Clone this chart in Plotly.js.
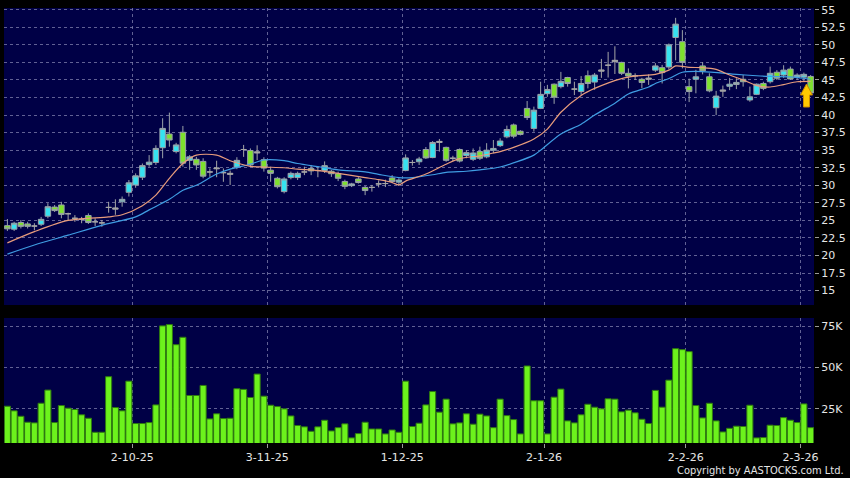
<!DOCTYPE html>
<html><head><meta charset="utf-8">
<script src="https://cdn.plot.ly/plotly-3.0.1.min.js"></script>
<style>html,body{margin:0;padding:0;background:#000;}#c{width:850px;height:478px;}</style>
</head><body><div id="c"></div>
<script>
// ---- data ----
const openP = [24.25,23.75,24.7,24.5,24.2,24.45,25.6,26.9,27.2,25.95,
25.3,25.15,25.7,24.8,24.65,26.85,26.6,27.65,29.0,30.05,
31.15,32.95,33.25,35.35,37.3,34.8,37.55,33.55,33.7,33.4,
31.9,32.35,31.8,31.55,32.6,35.1,34.95,34.6,33.65,32.15,
31.0,29.1,31.1,31.1,31.9,32.4,32.1,32.1,32.0,31.65,
30.55,29.95,30.9,29.7,29.7,30.2,30.25,31.05,30.45,32.1,
33.25,33.35,35.1,33.95,36.1,35.4,33.85,35.1,34.25,33.7,
34.8,34.05,35.0,35.65,36.9,38.6,37.7,40.95,38.1,40.95,
43.05,44.4,44.05,45.35,43.7,43.35,45.6,44.7,46.25,47.1,
47.6,47.5,45.95,45.6,45.1,45.1,46.4,46.75,46.85,51.05,
50.45,44.05,45.1,47.0,45.45,41.05,43.4,44.1,44.35,45.1,
42.15,42.95,44.5,44.75,46.1,45.7,46.55,45.4,45.4,45.5];
const highP = [25.2,24.8,25.05,24.8,24.6,25.5,27.45,27.2,27.65,26.1,
25.75,25.5,26.0,25.3,25.05,27.65,28.0,28.4,30.75,31.7,
33.1,34.3,35.7,39.55,40.35,36.05,38.45,34.3,34.05,33.85,
32.4,33.5,32.4,32.1,34.0,35.75,35.25,35.7,34.0,32.65,
31.2,31.15,31.95,31.95,32.65,32.9,32.65,33.4,32.2,31.95,
30.8,30.35,31.15,29.9,30.05,30.7,30.8,31.45,31.0,34.4,
33.6,34.05,35.45,36.3,36.6,35.5,34.2,35.25,35.0,35.25,
35.5,36.0,36.45,36.7,38.5,38.8,37.85,42.0,41.2,44.75,
44.3,44.5,46.15,45.45,44.75,45.55,46.35,46.0,48.0,49.0,
49.8,47.6,46.65,45.95,45.3,45.8,47.4,47.15,50.2,53.85,
52.1,45.2,46.45,47.55,45.95,43.45,44.2,45.3,45.25,45.7,
44.05,44.5,44.75,46.9,46.4,47.1,46.9,45.95,46.05,45.7];
const lowP = [23.5,23.5,23.85,23.85,23.6,24.2,25.3,26.2,25.3,25.0,
24.8,24.6,24.5,24.2,24.1,26.1,25.8,26.95,28.4,29.65,
30.75,32.65,32.9,33.85,35.5,34.55,32.65,32.2,32.2,31.0,
31.2,31.15,30.5,30.05,32.3,34.05,32.65,33.6,31.95,30.5,
29.55,28.85,30.85,30.75,31.45,31.45,31.15,31.75,31.2,30.6,
29.45,29.75,30.25,28.6,29.1,29.7,29.75,30.3,29.9,32.0,
32.8,32.9,33.75,33.85,34.8,33.35,33.45,33.25,33.85,33.45,
33.6,33.85,34.55,35.45,36.7,36.7,37.1,39.3,37.65,40.85,
42.6,41.6,43.8,44.05,42.85,42.85,43.8,43.6,45.3,45.35,
45.85,45.7,43.8,45.0,43.85,44.3,46.15,44.5,46.5,47.8,
46.65,41.85,43.1,45.8,43.25,40.0,42.6,43.55,43.7,44.05,
41.9,42.85,43.55,44.5,45.0,45.3,45.0,45.0,44.75,43.0];
const closeP = [23.8,24.6,24.15,24.15,24.2,25.15,26.95,26.4,25.85,25.95,
25.3,25.15,24.7,24.8,24.65,26.85,26.75,28.0,30.35,31.35,
32.8,33.3,35.25,38.1,36.45,35.75,33.15,34.05,32.9,31.3,
31.9,32.45,31.8,31.7,33.55,35.1,32.9,34.75,32.45,31.7,
29.8,30.9,31.7,31.7,31.9,32.05,32.1,32.8,31.65,31.0,
29.85,30.2,30.4,29.25,29.7,30.2,30.25,30.55,30.75,33.9,
33.25,33.75,33.9,36.1,36.25,33.55,33.85,33.45,34.65,34.6,
33.85,35.0,35.25,36.3,37.95,37.0,37.25,39.65,40.7,42.95,
43.65,42.55,44.8,44.5,43.7,44.5,44.5,45.7,46.4,47.1,
47.8,45.95,45.55,45.6,44.65,45.25,47.0,46.05,50.0,52.95,
47.5,43.35,45.45,46.3,43.45,42.7,43.55,44.4,44.65,44.75,
42.6,44.4,43.8,45.95,45.25,46.4,45.15,45.7,45.8,43.15];
const volumeK = [26.6,23.8,20.5,16.9,16.5,28.4,36.4,16.7,27.0,25.4,
24.6,21.4,19.3,10.8,10.8,44.5,25.8,23.8,41.8,16.1,
16.1,16.7,27.4,75.3,76.1,63.9,68.4,33.1,33.1,39.2,
18.9,22.0,19.1,19.3,37.2,36.8,31.9,46.1,32.7,27.2,
26.4,25.0,20.7,14.9,14.1,11.4,14.1,18.1,11.6,13.6,
15.9,7.4,10.0,16.9,12.8,12.8,9.8,12.2,10.8,41.8,
14.3,16.3,27.4,35.5,23.0,30.9,15.9,16.5,22.0,15.7,
21.8,20.7,13.6,30.9,20.9,18.5,9.8,51.0,29.9,29.9,
9.8,32.1,37.0,17.7,16.5,21.4,27.8,26.0,25.0,31.1,
30.9,23.2,24.2,22.6,18.7,16.1,36.2,26.0,42.4,61.5,
60.9,59.7,27.0,19.5,28.4,17.7,11.0,13.2,14.5,14.3,
27.2,7.4,7.6,15.1,14.9,19.7,18.1,16.7,28.0,13.6];
// moving averages (bar index, value)
const maShortIdx = [0,4,9,15,17,20,22,24,26,28,31,33,36,38,41,43,46,49,53,55,57,58,59,62,65,67,70,72,73,75,78,80,82,85,87,91,93,96,98,99,101,103,105,107,109,111,113,115,117,119];
const maShortVal = [21.8,23.4,25.0,25.5,25.8,27.1,28.6,31.0,33.1,34.3,34.3,33.5,32.7,32.6,32.5,32.3,32.1,31.7,31.1,30.8,30.4,30.05,30.6,31.6,33.0,33.8,34.2,34.6,34.8,35.4,36.6,38.0,40.4,42.8,43.8,45.2,45.55,45.8,46.4,47.0,46.8,46.75,46.5,45.7,45.0,44.2,44.0,44.35,44.75,44.8];
const maLongIdx = [0,4,9,14,19,21,24,26,28,31,33,36,38,41,43,46,49,53,55,58,60,63,65,68,70,73,78,79,82,85,87,90,92,95,96,98,100,103,108,111,113,116,118,119];
const maLongVal = [20.2,21.5,22.9,24.3,25.5,26.5,28.0,29.3,30.0,31.6,32.3,33.0,33.6,33.5,33.1,32.65,32.2,31.9,31.55,31.1,31.1,31.5,31.85,32.0,32.2,32.6,34.3,35.0,37.3,38.7,40.0,41.7,43.0,44.0,44.5,45.2,46.1,46.2,45.8,45.6,45.5,45.45,45.25,45.1];
// tick labels (D-M-YY) and the bar index each one starts at
const tickText = ['2-10-25','3-11-25','1-12-25','2-1-26','2-2-26','2-3-26'];
const tickBar = [19,39,59,80,101,118];

// ---- build ----
const n = openP.length;
const idx = Array.from({length:n},(_,i)=>i);
const groups = {up:[],down:[],flat:[]};
for (let i=0;i<n;i++){
  const d = closeP[i]-openP[i];
  if (Math.abs(d) < 0.22) groups.flat.push(i);
  else if (d>0) groups.up.push(i); else groups.down.push(i);
}
function pick(arr, g){ return g.map(i=>arr[i]); }
function candle(g, fill, line){
  return {type:'candlestick', x:g, open:pick(openP,g), high:pick(highP,g), low:pick(lowP,g), close:pick(closeP,g),
    xaxis:'x', yaxis:'y', whiskerwidth:0, hoverinfo:'skip', showlegend:false,
    increasing:{fillcolor:fill, line:{color:line, width:1}},
    decreasing:{fillcolor:fill, line:{color:line, width:1}}};
}
const CYAN='#36E2F0', GREEN='#7EE12E', GRAY='#A6A6A6', WICK='#9AA2A8';
const navy = '#000046';
const gridC = 'rgba(130,130,175,0.75)';
const tv = tickBar.map(b=>b-0.5);

const traces = [
  {type:'scatter', mode:'lines', x:maLongIdx, y:maLongVal, line:{color:'#3F9CE2', width:1.2, shape:'spline', smoothing:0.8}, xaxis:'x', yaxis:'y', hoverinfo:'skip', showlegend:false},
  {type:'scatter', mode:'lines', x:maShortIdx, y:maShortVal, line:{color:'#E89C7C', width:1.2, shape:'spline', smoothing:0.8}, xaxis:'x', yaxis:'y', hoverinfo:'skip', showlegend:false},
  candle(groups.flat, GRAY, GRAY),
  candle(groups.up, CYAN, WICK),
  candle(groups.down, GREEN, WICK),
  {type:'bar', x:idx, y:volumeK, xaxis:'x2', yaxis:'y2', marker:{color:'#6CF21C', line:{color:'#2F7A10', width:1}}, hoverinfo:'skip', showlegend:false}
];

const axFont = {family:'DejaVu Sans, Verdana, sans-serif', size:11, color:'#E6E6E6'};
const layout = {
  width:850, height:478,
  margin:{l:4, r:36, t:8, b:35},
  paper_bgcolor:'#000000', plot_bgcolor:navy,
  showlegend:false, hovermode:false,
  boxgap:0.1, boxgroupgap:0.1, bargap:0.1,
  xaxis:{domain:[0,1], anchor:'y', range:[-0.5,119.5], rangeslider:{visible:false},
    tickmode:'array', tickvals:tv, showticklabels:false, ticks:'',
    showgrid:true, gridcolor:gridC, griddash:'3px,3px', gridwidth:1, zeroline:false, showline:false, fixedrange:true},
  yaxis:{domain:[0.3172,1], anchor:'x', side:'right', range:[12.95,55.25], tick0:0, dtick:2.5,
    ticks:'outside', ticklen:4, tickcolor:'#9a9a9a', tickfont:axFont,
    showgrid:true, gridcolor:gridC, griddash:'3px,3px', gridwidth:1, zeroline:false, showline:false, fixedrange:true},
  xaxis2:{domain:[0,1], anchor:'y2', range:[-0.5,119.5],
    tickmode:'array', tickvals:tv, ticktext:tickText, ticks:'outside', ticklen:4, tickcolor:'#9a9a9a', tickfont:axFont,
    showgrid:true, gridcolor:gridC, griddash:'3px,3px', gridwidth:1, zeroline:false, showline:false, fixedrange:true},
  yaxis2:{domain:[0,0.2874], anchor:'x2', side:'right', range:[4.3,80.1],
    tickmode:'array', tickvals:[25,50,75], ticktext:['25K','50K','75K'],
    ticks:'outside', ticklen:4, tickcolor:'#9a9a9a', tickfont:axFont,
    showgrid:true, gridcolor:gridC, griddash:'3px,3px', gridwidth:1, zeroline:false, showline:false, fixedrange:true},
  annotations:[{text:'Copyright by AASTOCKS.com Ltd.', xref:'paper', yref:'paper', x:1.0395, y:-0.064,
    xanchor:'right', yanchor:'middle', showarrow:false, font:{family:"'DejaVu Sans Condensed', 'Liberation Sans', sans-serif", size:11, color:'#E6E6E6'}}],
  shapes:[]
};
// yellow up-arrow marker at the latest bar (pixel geometry -> paper coords)
(function(){
  const px = v => (v-4)/810, py = v => (443-v)/435;
  const pts = [[806.5,84],[812.5,95],[809.5,95],[809.5,107],[803.5,107],[803.5,95],[800.5,95]];
  const path = 'M ' + pts.map(p=>px(p[0]).toFixed(5)+','+py(p[1]).toFixed(5)).join(' L ') + ' Z';
  layout.shapes.push({type:'path', xref:'paper', yref:'paper', path:path, fillcolor:'#FFC800', line:{color:'#C98A00', width:1}, layer:'above'});
})();
Plotly.newPlot('c', traces, layout, {displayModeBar:false, staticPlot:true});
</script>
</body></html>
